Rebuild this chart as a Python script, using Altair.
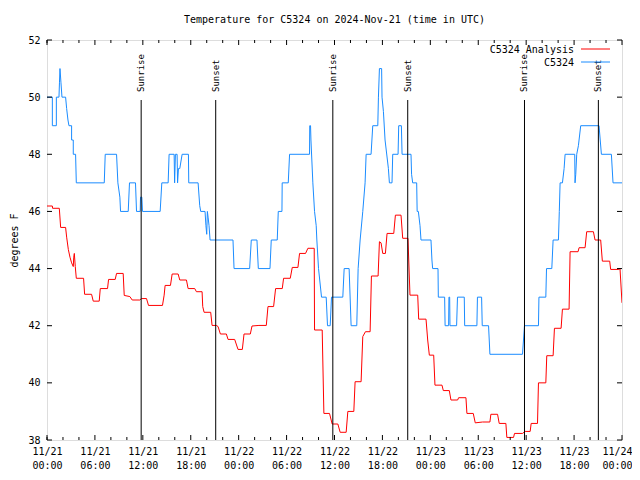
import altair as alt
import pandas as pd

# ---------------- data (hours since 2024-11-21 00:00 UTC, temperature in F) ----------------
analysis_hours = [
    0, 0.67, 0.7, 1.54, 1.71, 2.33, 2.46, 2.67, 2.875, 3.08, 3.29, 3.35, 3.42, 3.54, 3.67,
    4.58, 4.71, 5.58, 5.79, 6.54, 6.67, 7.58, 7.71, 8.54, 8.71, 9.54, 9.67, 10.375, 10.67,
    11.625, 11.83, 12.46, 12.71, 14.46, 14.67, 14.79, 15.46, 15.67, 16.42, 16.625, 17.46,
    17.67, 18.5, 18.71, 19.42, 19.5, 19.67, 20.5, 20.67, 21.21, 21.42, 21.71, 22.46, 22.67,
    23.5, 23.92, 24.46, 24.67, 25.46, 25.67, 26.54, 27.46, 27.67, 28.375, 28.625, 29.46,
    29.625, 30.46, 30.71, 31.42, 31.625, 32.375, 32.67, 33.46, 33.5, 34.46, 34.67, 35.375,
    35.71, 36.42, 36.71, 37.46, 37.67, 38.42, 38.58, 39.33, 39.54, 39.875, 40.46, 40.625,
    41.46, 41.625, 41.83, 42.04, 42.375, 42.58, 43.42, 43.625, 44.33, 44.54, 45.2, 45.45,
    46.42, 46.54, 47.46, 47.67, 47.875, 48.42, 48.58, 49.46, 49.625, 50.375, 50.58, 51.42,
    51.54, 52.46, 52.58, 53.375, 53.625, 54.54, 55.46, 55.58, 56.42, 56.625, 57.46, 57.58,
    58.42, 58.54, 59.54, 59.875, 60.5, 60.625, 61.42, 61.54, 62.46, 62.58, 63.375, 63.54,
    64.375, 64.54, 65.375, 65.5, 66.5, 66.625, 67.375, 67.58, 68.42, 68.625, 69.33, 69.54,
    70.46, 70.58, 71.6, 71.75, 72,
]
analysis_temps = [
    46.19, 46.19, 46.11, 46.11, 45.44, 45.44, 45.1, 44.67, 44.4, 44.2, 44.07, 44.4, 44.53, 44.07, 43.66,
    43.66, 43.1, 43.1, 42.86, 42.86, 43.3, 43.3, 43.62, 43.62, 43.83, 43.83, 43.06, 43.02, 42.9,
    42.9, 42.95, 42.95, 42.71, 42.71, 43.07, 43.41, 43.41, 43.81, 43.81, 43.6, 43.6,
    43.3, 43.3, 43.19, 43.19, 42.67, 42.47, 42.47, 42.01, 42.01, 41.97, 41.71, 41.71, 41.52,
    41.52, 41.17, 41.17, 41.71, 41.71, 41.99, 42.01, 42.01, 42.67, 42.67, 43.3, 43.3,
    43.66, 43.66, 44.04, 44.04, 44.53, 44.53, 44.71, 44.71, 41.85, 41.85, 38.93, 38.93,
    38.56, 38.56, 38.27, 38.27, 39.0, 39.0, 40.04, 40.04, 41.62, 41.79, 41.79, 43.74,
    43.74, 44.94, 44.9, 44.53, 44.53, 45.23, 45.23, 45.87, 45.87, 45.06, 45.06, 43.07,
    43.07, 42.23, 42.23, 41.5, 40.97, 40.97, 39.92, 39.92, 39.73, 39.73, 39.4, 39.4,
    39.48, 39.48, 38.93, 38.93, 38.6, 38.63, 38.63, 38.9, 38.9, 38.58, 38.58, 38.09,
    38.09, 38.23, 38.23, 38.3, 38.3, 38.58, 38.58, 40.0, 40.0, 40.95, 40.95, 41.91,
    41.91, 42.58, 42.58, 44.59, 44.59, 44.73, 44.73, 45.29, 45.29, 45.0, 45.0, 44.26,
    44.26, 43.97, 43.97, 44.0, 42.8,
]

obs_hours = [
    0, 0.67, 0.67, 1.17, 1.17, 1.5, 1.56, 1.625, 1.75, 1.875, 2.33, 2.46, 2.625, 2.75, 3.08,
    3.08, 3.29, 3.29, 3.58, 3.67, 7.17, 7.29, 8.71, 8.875, 9.125, 9.21, 10.17, 10.33, 11.08,
    11.21, 11.67, 11.71, 11.875, 11.96, 14.17, 14.375, 15.17, 15.29, 15.92, 15.98, 16.08,
    16.29, 16.35, 16.46, 16.625, 16.92, 17.71, 17.75, 18.92, 19.125, 19.25, 19.79, 19.9,
    20.0, 20.08, 20.17, 20.29, 20.42, 23.29, 23.42, 25.375, 25.58, 26.29, 26.46, 27.92,
    28.08, 28.83, 28.96, 29.42, 29.45, 30.21, 30.375, 32.875, 32.9, 33.0, 33.05, 33.29,
    33.5, 33.71, 33.79, 34.0, 34.375, 34.96, 35.125, 35.46, 35.625, 37.04, 37.21, 37.83,
    38.08, 38.79, 38.96, 39.21, 39.54, 39.83, 39.96, 40.58, 40.79, 41.42, 41.5, 41.625,
    41.9, 41.95, 42.125, 42.33, 42.75, 42.875, 43.2, 43.29, 43.96, 44.04, 44.375, 44.46,
    45.58, 45.65, 45.79, 46.29, 46.35, 46.5, 46.71, 46.83, 48.08, 48.2, 48.29, 48.96,
    49.0, 49.79, 49.85, 50.29, 50.33, 50.42, 50.46, 51.29, 51.4, 52.25, 52.3, 53.83,
    53.9, 54.42, 54.5, 55.29, 55.46, 59.54, 59.79, 61.54, 61.6, 62.46, 62.55, 63.21,
    63.375, 64.04, 64.15, 64.25, 64.54, 64.75, 64.875, 66.08, 66.12, 66.21, 66.33, 66.54,
    66.83, 69.125, 69.42, 70.67, 70.875, 72,
]
obs_temps = [
    50, 50, 49, 49, 50, 50, 50.5, 51, 50.5, 50, 50, 49.6, 49.2, 49, 49,
    48.5, 48.5, 48, 48, 47, 47, 48, 48, 47, 46.5, 46, 46, 47, 47,
    46, 46, 46.5, 46.5, 46, 46, 47, 47, 48, 48, 47, 48,
    48, 47, 47.5, 47.5, 48, 48, 47, 47, 46.2, 46, 46, 45.5,
    45.2, 46, 45.8, 45.5, 45, 45, 44, 44, 45, 45, 44, 44,
    45, 45, 46, 46, 47, 47, 48, 48, 49, 49, 48.5, 47,
    46, 45.5, 45, 44, 43, 43, 42, 42, 43, 43, 44, 44,
    42, 42, 44, 45, 46, 47, 48, 48, 49, 49, 50, 51,
    51, 50, 49.5, 48.5, 47.5, 47, 47, 48, 48, 49, 49, 48,
    48, 47.3, 47, 47, 46, 46, 45.5, 45, 45, 44.3, 44, 44,
    43, 43, 42, 42, 43, 43, 42, 42, 43, 43, 42, 42,
    43, 43, 42, 42, 41, 41, 42, 42, 43, 43, 44, 44,
    45, 45, 46, 47, 47, 47.5, 48, 48, 47, 47.3, 48, 48.3,
    49, 49, 48, 48, 47, 47,
]

event_hours = [11.79, 21.125, 35.79, 45.17, 59.79, 69.04]
event_labels = ["Sunrise", "Sunset", "Sunrise", "Sunset", "Sunrise", "Sunset"]

x_label_hours = [0, 6, 12, 18, 24, 30, 36, 42, 48, 54, 60, 66, 72]
x_label_dates = ["11/21", "11/21", "11/21", "11/21", "11/22", "11/22", "11/22",
                 "11/22", "11/23", "11/23", "11/23", "11/23", "11/24"]
x_label_times = ["00:00", "06:00", "12:00", "18:00", "00:00", "06:00", "12:00",
                 "18:00", "00:00", "06:00", "12:00", "18:00", "00:00"]
x_minor_hours = [0, 2, 4, 8, 10, 14, 16, 20, 22, 26, 28, 32, 34, 38, 40, 44, 46,
                 50, 52, 56, 58, 62, 64, 68, 70]
y_tick_values = [38, 40, 42, 44, 46, 48, 50, 52]

series_names = ["C5324 Analysis", "C5324"]
series_colors = ["#ff0000", "#1a8cff"]

TITLE = "Temperature for C5324 on 2024-Nov-21 (time in UTC)"
FONT = "DejaVu Sans Mono"
W, H = 575, 400

# ---------------- tables ----------------
df_a = pd.DataFrame({"hour": analysis_hours, "temp": analysis_temps,
                     "order": list(range(len(analysis_hours)))})
df_o = pd.DataFrame({"hour": obs_hours, "temp": obs_temps,
                     "order": list(range(len(obs_hours)))})
df_ev = pd.DataFrame({"hour": event_hours, "label": event_labels})
df_major = pd.DataFrame({"hour": x_label_hours})
df_minor = pd.DataFrame({"hour": x_minor_hours})
df_y = pd.DataFrame({"temp": y_tick_values})

label_expr = ""
for h, d, t in zip(x_label_hours, x_label_dates, x_label_times):
    label_expr += f"datum.value == {h} ? ['{d}', '{t}'] : "
label_expr += "''"

x_scale = alt.Scale(domain=[0, 72], nice=False, zero=False)
y_scale = alt.Scale(domain=[38, 52], nice=False, zero=False)

x_axis = alt.Axis(values=x_label_hours, labelExpr=label_expr, ticks=False,
                  domain=False, grid=False, labelFont=FONT, labelFontSize=10,
                  labelColor="black", labelPadding=6, labelLineHeight=14,
                  labelAngle=0, labelFlush=False, labelOverlap=False,
                  labelOffset={"condition": {"test": f"datum.value == {x_label_hours[-1]}",
                                             "value": -5}, "value": 0})
y_axis = alt.Axis(values=y_tick_values, ticks=False, domain=False, grid=False,
                  labelFont=FONT, labelFontSize=10, labelColor="black",
                  labelPadding=7, labelFlush=False, labelOverlap=False,
                  titleFont=FONT, titleFontSize=10, titleFontWeight="normal",
                  titleColor="black", titleX=-33, titleY=200,
                  titleAngle=270, titleBaseline="middle", titleAlign="center")

X = alt.X("hour:Q", scale=x_scale, title=None, axis=x_axis)
Y = alt.Y("temp:Q", scale=y_scale, title="degrees F", axis=y_axis)

analysis_line = alt.Chart(df_a).mark_line(clip=True, strokeWidth=1, color=series_colors[0]).encode(
    x=X, y=Y, order="order:Q")
obs_line = alt.Chart(df_o).mark_line(clip=True, strokeWidth=1, color=series_colors[1]).encode(
    x=X, y=Y, order="order:Q")

event_rules = alt.Chart(df_ev).mark_rule(color="black", strokeWidth=1).encode(
    x=X, y=alt.value(60), y2=alt.value(H))
event_text = alt.Chart(df_ev).mark_text(angle=270, align="left", baseline="middle",
                                        font=FONT, fontSize=9, color="black").encode(
    x=X, y=alt.value(52), text="label:N")

# inward ticks (gnuplot style, mirrored on all sides)
tick_major_bottom = alt.Chart(df_major).mark_rule(color="black").encode(
    x=X, y=alt.value(H), y2=alt.value(H - 5))
tick_major_top = alt.Chart(df_major).mark_rule(color="black").encode(
    x=X, y=alt.value(0), y2=alt.value(5))
tick_minor_bottom = alt.Chart(df_minor).mark_rule(color="black").encode(
    x=X, y=alt.value(H), y2=alt.value(H - 3))
tick_minor_top = alt.Chart(df_minor).mark_rule(color="black").encode(
    x=X, y=alt.value(0), y2=alt.value(3))
tick_left = alt.Chart(df_y).mark_rule(color="black").encode(
    y=Y, x=alt.value(0), x2=alt.value(5))
tick_right = alt.Chart(df_y).mark_rule(color="black").encode(
    y=Y, x=alt.value(W), x2=alt.value(W - 5))

# legend (text right-aligned, line sample on the right)
leg_rows_y = [10, 23]
legend_layers = []
for name, col, yy in zip(series_names, series_colors, leg_rows_y):
    legend_layers.append(
        alt.Chart(df_major.head(1)).mark_text(align="right", baseline="middle", font=FONT,
                                              fontSize=10, color="black", text=name).encode(
            x=alt.value(527), y=alt.value(yy)))
    legend_layers.append(
        alt.Chart(df_major.head(1)).mark_rule(color=col, strokeWidth=1).encode(
            x=alt.value(534), x2=alt.value(563), y=alt.value(yy - 1)))

chart = alt.layer(
    analysis_line, obs_line, event_rules, event_text,
    tick_major_bottom, tick_major_top, tick_minor_bottom, tick_minor_top,
    tick_left, tick_right, *legend_layers
).properties(
    width=W, height=H,
    title=alt.TitleParams(TITLE, font=FONT, fontSize=10, fontWeight="normal",
                          color="black", anchor="middle", offset=10),
    autosize=alt.AutoSizeParams(type="none"),
    padding={"left": 39, "top": 32, "right": 10, "bottom": 32},
).configure_view(stroke="black", strokeWidth=1).configure(background="white")

chart.save("out.html", embed_options={"renderer": "svg", "actions": False})
